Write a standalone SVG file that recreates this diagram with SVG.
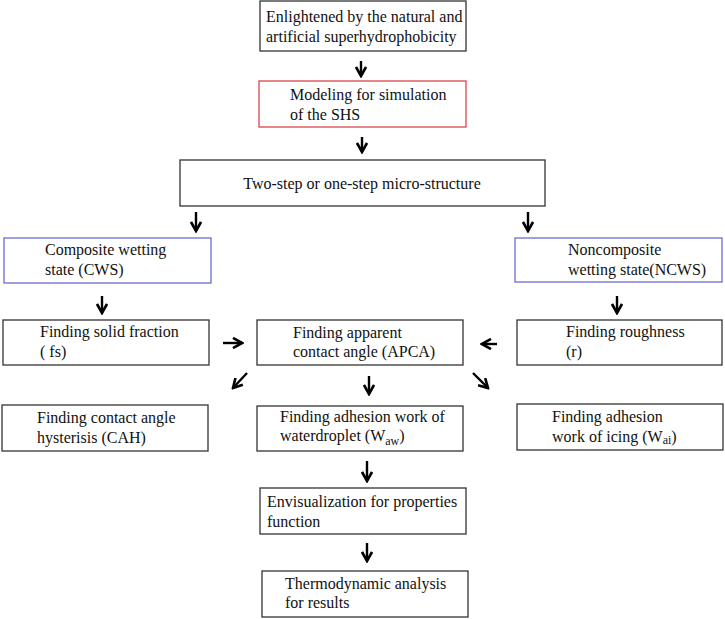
<svg xmlns="http://www.w3.org/2000/svg" width="725" height="619" viewBox="0 0 725 619">
<style>
text{font-family:'Liberation Serif','DejaVu Serif','Times New Roman',Times,serif;font-size:16px;fill:#111}
.box{fill:#fff;stroke:#333;stroke-width:1.3}
.red{fill:#fff;stroke:#d9454a;stroke-width:1.3}
.blue{fill:#fff;stroke:#6b6bd0;stroke-width:1.3}
.arr{stroke:#000;stroke-width:2.4;fill:none;marker-end:url(#ah)}
</style>
<defs>
<marker id="ah" viewBox="0 0 10 10" refX="8.5" refY="5" markerWidth="12" markerHeight="12" markerUnits="userSpaceOnUse" orient="auto">
<path d="M1,0.8 L8.5,5 L1,9.2" fill="none" stroke="#000" stroke-width="2.2"/>
</marker>
</defs>
<rect width="725" height="619" fill="#fff"/>
<g id="n1"><rect class="box" x="260" y="1" width="206" height="50"/>
<text x="266" y="22">Enlightened by the natural and</text>
<text x="266" y="42">artificial superhydrophobicity</text></g>
<g id="n2"><rect class="red" x="259" y="81" width="207" height="46"/>
<text x="290" y="100">Modeling for simulation</text>
<text x="290" y="120">of the SHS</text></g>
<g id="n3"><rect class="box" x="180" y="160" width="365" height="46"/>
<text x="362" y="189" text-anchor="middle">Two-step or one-step micro-structure</text></g>
<g id="n4"><rect class="blue" x="4" y="238" width="207" height="45"/>
<text x="45" y="255">Composite wetting</text>
<text x="45" y="275">state (CWS)</text></g>
<g id="n5"><rect class="blue" x="515" y="238" width="207" height="44"/>
<text x="568" y="255">Noncomposite</text>
<text x="568" y="275">wetting state(NCWS)</text></g>
<g id="n6"><rect class="box" x="3" y="320" width="206" height="45"/>
<text x="40" y="337">Finding solid fraction</text>
<text x="40" y="357">( fs)</text></g>
<g id="n7"><rect class="box" x="257" y="320" width="206" height="45"/>
<text x="293" y="338">Finding apparent</text>
<text x="293" y="357">contact angle (APCA)</text></g>
<g id="n8"><rect class="box" x="517" y="320" width="205" height="45"/>
<text x="566" y="337">Finding roughness</text>
<text x="566" y="357">(r)</text></g>
<g id="n9"><rect class="box" x="2" y="405" width="206" height="46"/>
<text x="37" y="423">Finding contact angle</text>
<text x="37" y="443">hysterisis (CAH)</text></g>
<g id="n10"><rect class="box" x="257" y="406" width="206" height="45"/>
<text x="280" y="422">Finding adhesion work of</text>
<text x="280" y="441">waterdroplet (W<tspan font-size="12" dy="4">aw</tspan><tspan dy="-4">)</tspan></text></g>
<g id="n11"><rect class="box" x="517" y="404" width="206" height="46"/>
<text x="552" y="422">Finding adhesion</text>
<text x="552" y="442">work of icing (W<tspan font-size="12" dy="2">ai</tspan><tspan dy="-2">)</tspan></text></g>
<g id="n12"><rect class="box" x="260" y="488" width="206" height="46"/>
<text x="267" y="507">Envisualization for properties</text>
<text x="267" y="527">function</text></g>
<g id="n13"><rect class="box" x="262" y="571" width="206" height="46"/>
<text x="285" y="589">Thermodynamic analysis</text>
<text x="285" y="608">for results</text></g>
<g id="connectors">
<line class="arr" x1="361" y1="61" x2="361" y2="76"/>
<line class="arr" x1="362" y1="137" x2="362" y2="152"/>
<line class="arr" x1="196" y1="212" x2="196" y2="231"/>
<line class="arr" x1="528" y1="212" x2="528" y2="231"/>
<line class="arr" x1="102" y1="296" x2="102" y2="313"/>
<line class="arr" x1="617" y1="296" x2="617" y2="313"/>
<line class="arr" x1="223" y1="343" x2="242" y2="343"/>
<line class="arr" x1="497" y1="344" x2="482" y2="344"/>
<line class="arr" x1="247" y1="373" x2="233" y2="388"/>
<line class="arr" x1="473" y1="373" x2="488" y2="388"/>
<line class="arr" x1="369" y1="376" x2="369" y2="394"/>
<line class="arr" x1="367" y1="461" x2="367" y2="481"/>
<line class="arr" x1="367" y1="543" x2="367" y2="561"/>
</g>
</svg>
